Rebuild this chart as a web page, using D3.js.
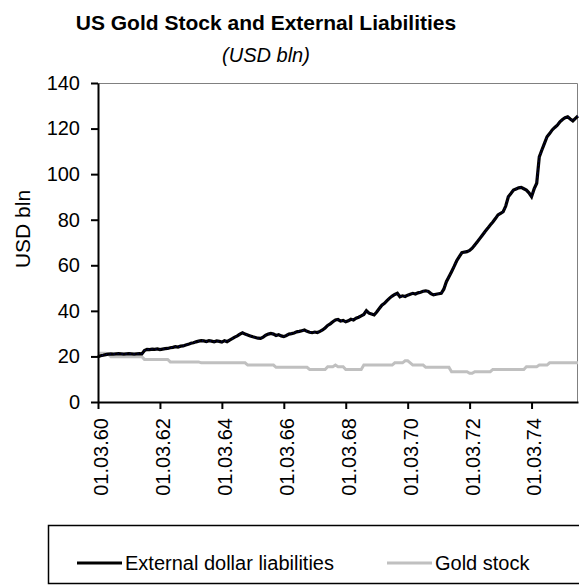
<!DOCTYPE html>
<html>
<head>
<meta charset="utf-8">
<script src="https://cdn.jsdelivr.net/npm/d3@7"></script>
<style>
  html, body { margin: 0; padding: 0; background: #fff; }
  svg { display: block; }
  text { font-family: Arial, "Liberation Sans", sans-serif; fill: #000; }
</style>
</head>
<body>
<svg id="chart" width="579" height="585"></svg>
<script>
// ---- Data (monthly, starting 01.03.1960, month index 0..186) ----
const seriesNames = ["External dollar liabilities", "Gold stock"];

const liabilities = [
  19.9,20.3,20.5,20.8,21.0,21.1,21.0,21.1,21.2,21.1,
  21.0,21.1,21.2,21.1,21.0,21.1,21.2,21.1,22.6,23.1,
  23.0,23.2,23.1,23.3,23.0,23.2,23.4,23.5,23.8,24.0,
  24.3,24.1,24.5,24.6,25.0,25.3,25.8,26.0,26.4,26.7,
  26.9,26.8,26.5,26.9,26.7,26.4,26.8,26.6,26.3,26.9,
  26.5,27.2,27.8,28.5,29.0,29.8,30.4,29.8,29.4,29.0,
  28.6,28.3,28.0,27.9,28.5,29.3,29.8,30.1,29.8,29.2,
  29.5,29.0,28.7,29.2,29.8,30.0,30.3,30.8,31.0,31.3,
  31.6,31.0,30.6,30.4,30.7,30.5,31.0,31.6,32.5,33.6,
  34.3,35.2,36.0,36.2,35.5,35.8,35.2,35.6,36.3,36.0,
  36.8,37.2,37.8,38.4,40.1,39.0,38.6,38.2,39.5,41.0,
  42.5,43.3,44.5,45.6,46.5,47.2,47.7,46.2,46.6,46.3,
  46.9,47.3,47.7,47.4,47.9,48.2,48.6,48.8,48.5,47.6,
  47.0,47.3,47.5,47.7,49.5,52.8,55.0,57.2,59.5,62.0,
  63.8,65.5,65.8,66.0,66.5,67.5,68.9,70.3,71.8,73.3,
  74.8,76.2,77.7,79.0,80.5,82.1,82.8,83.5,86.0,90.1,
  91.5,93.0,93.5,94.0,94.2,93.6,93.0,91.8,90.1,93.5,
  96.0,107.6,110.6,113.5,116.4,117.8,119.4,120.5,121.5,123.0,
  124.0,124.8,125.2,124.2,123.4,124.5,125.5
];

const goldStock = [
  21.4,21.4,21.4,21.4,21.0,19.9,19.9,19.9,19.9,19.9,
  19.9,19.9,19.9,19.9,19.9,19.9,19.9,19.9,18.7,18.7,
  18.7,18.7,18.7,18.7,18.7,18.7,18.7,18.7,17.6,17.6,
  17.6,17.6,17.6,17.6,17.6,17.6,17.6,17.6,17.6,17.6,
  17.2,17.2,17.2,17.2,17.2,17.2,17.2,17.2,17.2,17.2,
  17.2,17.2,17.2,17.2,17.2,17.2,17.2,17.2,16.2,16.2,
  16.2,16.2,16.2,16.2,16.2,16.2,16.2,16.2,16.2,15.2,
  15.2,15.2,15.2,15.2,15.2,15.2,15.2,15.2,15.2,15.2,
  15.2,15.2,14.3,14.3,14.3,14.3,14.3,14.3,14.3,15.5,
  15.5,15.5,16.2,15.5,15.5,15.5,14.3,14.3,14.3,14.3,
  14.3,14.3,14.3,16.2,16.2,16.2,16.2,16.2,16.2,16.2,
  16.2,16.2,16.2,16.2,16.2,17.2,17.2,17.2,17.2,18.1,
  18.1,17.2,16.2,16.2,16.2,16.2,16.2,15.2,15.2,15.2,
  15.2,15.2,15.2,15.2,15.2,15.2,15.2,13.3,13.3,13.3,
  13.3,13.3,13.3,13.3,12.6,12.6,13.3,13.3,13.3,13.3,
  13.3,13.3,13.3,14.3,14.3,14.3,14.3,14.3,14.3,14.3,
  14.3,14.3,14.3,14.3,14.3,14.3,15.5,15.5,15.5,15.5,
  15.5,16.2,16.2,16.2,16.2,17.2,17.2,17.2,17.2,17.2,
  17.2,17.2,17.2,17.2,17.2,17.2,17.2
];

const xTickIndex = [0, 24, 48, 72, 96, 120, 144, 168];
const xTickLabels = ["01.03.60","01.03.62","01.03.64","01.03.66","01.03.68","01.03.70","01.03.72","01.03.74"];
const yTicks = [0, 20, 40, 60, 80, 100, 120, 140];

// ---- Layout ----
const svg = d3.select("#chart");
const plotLeft = 98, plotRight = 578, plotTop = 83, plotBottom = 402;

const x = d3.scaleLinear().domain([0, 186]).range([plotLeft, plotRight]);
const y = d3.scaleLinear().domain([0, 140]).range([plotBottom, plotTop]);

// Title
svg.append("text")
  .attr("x", 266).attr("y", 30)
  .attr("text-anchor", "middle")
  .style("font-weight", "bold").style("font-size", "21px")
  .text("US Gold Stock and External  Liabilities");
svg.append("text")
  .attr("x", 266).attr("y", 62)
  .attr("text-anchor", "middle")
  .style("font-style", "italic").style("font-size", "20px")
  .text("(USD bln)");

// Plot border (top/right gray)
svg.append("path")
  .attr("d", `M${plotLeft},${plotTop + 0.5}H${plotRight - 0.5}V${plotBottom}`)
  .attr("fill", "none").attr("stroke", "#808080").attr("stroke-width", 1);

// Lines
const line = d3.line().x((d, i) => x(i)).y(d => y(d));

svg.append("path").datum(goldStock)
  .attr("d", line).attr("fill", "none")
  .attr("stroke", "#c0c0c0").attr("stroke-width", 3);

svg.append("path").datum(liabilities)
  .attr("d", line).attr("fill", "none")
  .attr("stroke", "#000").attr("stroke-width", 3.2);
svg.append("path").datum(liabilities)
  .attr("d", line).attr("fill", "none")
  .attr("stroke", "#000080").attr("stroke-width", 1)
  .attr("stroke-dasharray", "1,3");

// Y axis
const yAxis = svg.append("g")
  .attr("transform", `translate(${plotLeft},0)`)
  .call(d3.axisLeft(y).tickValues(yTicks).tickSize(7).tickPadding(11).tickSizeOuter(0));
yAxis.select(".domain").attr("stroke", "#000").attr("stroke-width", 2);
yAxis.selectAll(".tick line").attr("stroke", "#000").attr("stroke-width", 2);
yAxis.selectAll("text").style("font-size", "20px").style("font-family", "Arial, 'Liberation Sans', sans-serif");

// X axis
const xAxis = svg.append("g")
  .attr("transform", `translate(0,${plotBottom})`)
  .call(d3.axisBottom(x).tickValues(xTickIndex)
    .tickFormat((d, i) => xTickLabels[i]).tickSize(7).tickSizeOuter(0));
xAxis.select(".domain").attr("stroke", "#000").attr("stroke-width", 2);
xAxis.selectAll(".tick line").attr("stroke", "#000").attr("stroke-width", 2);
xAxis.selectAll("text")
  .attr("transform", "rotate(-90)")
  .attr("x", -16).attr("y", 0).attr("dy", "0.47em")
  .style("text-anchor", "end")
  .style("font-size", "20px").style("font-family", "Arial, 'Liberation Sans', sans-serif");

// Y axis title
svg.append("text")
  .attr("transform", "translate(30,229) rotate(-90)")
  .attr("text-anchor", "middle")
  .style("font-size", "21px")
  .text("USD bln");

// Legend
const legend = svg.append("g");
legend.append("rect")
  .attr("x", 48.5).attr("y", 525.5).attr("width", 540).attr("height", 58)
  .attr("fill", "#fff").attr("stroke", "#000").attr("stroke-width", 1.5);
const legendItems = [
  { name: seriesNames[0], color: "#000", x0: 77, x1: 122, tx: 125 },
  { name: seriesNames[1], color: "#c0c0c0", x0: 387, x1: 432, tx: 435 }
];
legendItems.forEach(it => {
  legend.append("line")
    .attr("x1", it.x0).attr("x2", it.x1).attr("y1", 563).attr("y2", 563)
    .attr("stroke", it.color).attr("stroke-width", 3);
  legend.append("text")
    .attr("x", it.tx).attr("y", 570)
    .style("font-size", "20px")
    .text(it.name);
});
</script>
</body>
</html>
